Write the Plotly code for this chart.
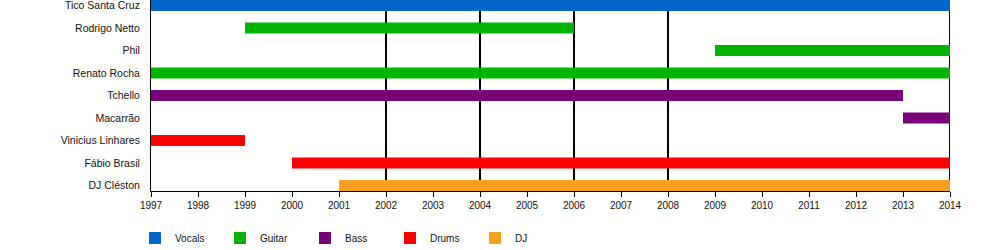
import plotly.graph_objects as go

members = ["Tico Santa Cruz", "Rodrigo Netto", "Phil", "Renato Rocha", "Tchello",
           "Macarrão", "Vinicius Linhares", "Fábio Brasil", "DJ Cléston"]

roles = ["Vocals", "Guitar", "Bass", "Drums", "DJ"]
role_colors = ["#0066cc", "#00b400", "#780078", "#ff0000", "#f9a020"]

periods_member = ["Tico Santa Cruz", "Rodrigo Netto", "Phil", "Renato Rocha", "Tchello",
                  "Macarrão", "Vinicius Linhares", "Fábio Brasil", "DJ Cléston"]
periods_role = ["Vocals", "Guitar", "Guitar", "Guitar", "Bass", "Bass", "Drums", "Drums", "DJ"]
periods_start = [1997, 1999, 2009, 1997, 1997, 2013, 1997, 2000, 2001]
periods_end = [2014, 2006, 2014, 2014, 2013, 2014, 1999, 2014, 2014]

era_lines = [2002, 2004, 2006, 2008, 2014]
year_ticks = list(range(1997, 2015))

fig = go.Figure()
for role, color in zip(roles, role_colors):
    ys, bases, lens = [], [], []
    for m, r, s, e in zip(periods_member, periods_role, periods_start, periods_end):
        if r == role:
            ys.append(m)
            bases.append(s)
            lens.append(e - s)
    fig.add_trace(go.Bar(
        y=ys, x=lens, base=bases, orientation="h", name=role,
        marker=dict(color=color, line=dict(width=0)),
        width=0.49, hoverinfo="skip",
    ))

for yr in era_lines:
    fig.add_shape(type="line", xref="x", yref="paper", x0=yr, x1=yr, y0=0, y1=1,
                  line=dict(color="black", width=2), layer="below")

n = len(members)
fig.update_layout(
    width=1000, height=250,
    margin=dict(l=151, r=50, t=0, b=59, autoexpand=False),
    paper_bgcolor="white", plot_bgcolor="white",
    barmode="overlay",
    font=dict(family="Liberation Sans, Arial, sans-serif", size=10, color="#111"),
    showlegend=True,
    legend=dict(orientation="h", x=135, xref="container", xanchor="left",
                yref="container", y=0.048, yanchor="middle",
                entrywidth=40, entrywidthmode="pixels", font=dict(size=10),
                traceorder="normal", itemclick=False),
    xaxis=dict(range=[1997, 2014], tickvals=year_ticks, ticktext=[str(y) for y in year_ticks],
               showgrid=False, zeroline=False, showline=True, linecolor="black", linewidth=1,
               ticks="outside", ticklen=5, tickcolor="black", tickfont=dict(size=10)),
    yaxis=dict(categoryorder="array", categoryarray=members, type="category",
               range=[n - 1 + 0.244, -0.244], showgrid=False, zeroline=False,
               showline=True, linecolor="black", linewidth=1, ticks="",
               tickfont=dict(size=10.5), ticklabelstandoff=8),
)
fig.update_layout(legend_x=135 / 1000)

fig.write_html("out.html")
